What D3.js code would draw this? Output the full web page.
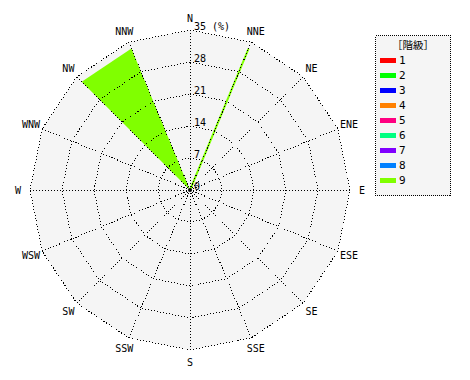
<!DOCTYPE html>
<html><head><meta charset="utf-8">
<script src="https://cdn.jsdelivr.net/npm/d3@7"></script>
<style>
html,body{margin:0;padding:0;background:#fff;}
svg{display:block;}
text{font-family:"DejaVu Sans Mono","Liberation Mono",monospace;fill:#000;}
</style></head>
<body>
<svg id="chart" width="470" height="380"></svg>
<script>
// ---- data ----
const directions = ["N","NNE","NE","ENE","E","ESE","SE","SSE","S","SSW","SW","WSW","W","WNW","NW","NNW"];
const ringTicks = [0, 7, 14, 21, 28, 35];
const unitLabel = "(%)";
const legendTitle = "［階級］";
const classes = ["1","2","3","4","5","6","7","8","9"];
const classColors = ["#ff0000","#00ff00","#0000ff","#ff8000","#ff0080","#00ff80","#8000ff","#0080ff","#80ff00"];
// class 9 sectors: start direction, end direction, value (%)
const class9From = ["NW", "NNE"];
const class9To = ["NNW", "NNE"];
const class9Values = [33.5, 33.5];

// ---- layout ----
const cx = 190, cy = 190, R = 160;
const svg = d3.select("#chart");
const g = svg.append("g").attr("transform", `translate(${cx},${cy})`);

const r = d3.scaleLinear().domain([0, 35]).range([0, R]);
const ang = d3.scalePoint().domain(directions).range([0, 360 - 360 / directions.length]);
const rad = d => (ang(d) - 90) * Math.PI / 180;
const pt = (d, v) => [r(v) * Math.cos(rad(d)), r(v) * Math.sin(rad(d))];

// background polygon
g.append("polygon")
  .attr("points", directions.map(d => pt(d, 35).join(",")).join(" "))
  .attr("fill", "#f5f5f5");

// sectors
const sectors = class9Values.map((v, i) => ({from: class9From[i], to: class9To[i], value: v}));
g.selectAll("polygon.sector").data(sectors).join("polygon")
  .attr("class", "sector")
  .attr("points", s => [[0, 0], pt(s.from, s.value), pt(s.to, s.value)].map(p => p.join(",")).join(" "))
  .attr("fill", classColors[8])
  .attr("stroke", classColors[8])
  .attr("stroke-width", s => s.from === s.to ? 2 : 0);

// rings
g.selectAll("polygon.ring").data(ringTicks.slice(1)).join("polygon")
  .attr("class", "ring")
  .attr("points", v => directions.map(d => pt(d, v).join(",")).join(" "))
  .attr("fill", "none").attr("stroke", "#000").attr("stroke-width", 1)
  .attr("stroke-dasharray", "1,2").attr("shape-rendering", "crispEdges");

// spokes
g.selectAll("line.spoke").data(directions).join("line")
  .attr("class", "spoke")
  .attr("x1", 0).attr("y1", 0)
  .attr("x2", d => pt(d, 35)[0]).attr("y2", d => pt(d, 35)[1])
  .attr("stroke", "#000").attr("stroke-width", 1).attr("stroke-dasharray", "1,2")
  .attr("shape-rendering", "crispEdges");

g.append("circle").attr("r", 2).attr("fill", "#000");

// ring labels
g.selectAll("text.tick").data(ringTicks).join("text")
  .attr("class", "tick")
  .attr("x", 4).attr("y", v => -r(v))
  .attr("font-size", 10)
  .text(v => v === 35 ? v + " " + unitLabel : v);

// direction labels
g.selectAll("text.dir").data(directions).join("text")
  .attr("class", "dir")
  .attr("x", d => (R + 12) * Math.cos(rad(d)))
  .attr("y", d => (R + 12) * Math.sin(rad(d)))
  .attr("text-anchor", "middle").attr("dominant-baseline", "central")
  .attr("font-size", 10)
  .text(d => d);

// legend
const lg = svg.append("g").attr("transform", "translate(375,35)");
lg.append("rect").attr("x", 0.5).attr("y", 0.5).attr("width", 75).attr("height", 160)
  .attr("fill", "#f5f5f5").attr("stroke", "#000").attr("stroke-dasharray", "1,1")
  .attr("shape-rendering", "crispEdges");
lg.append("text").attr("x", 38).attr("y", 14).attr("text-anchor", "middle")
  .attr("font-size", 10.5).style("font-family", "'Noto Sans CJK JP'").text(legendTitle);
const items = lg.selectAll("g.item").data(classes).join("g")
  .attr("class", "item")
  .attr("transform", (c, i) => `translate(0,${25 + i * 15})`);
items.append("rect").attr("x", 5).attr("y", -2).attr("width", 16).attr("height", 5)
  .attr("fill", (c, i) => classColors[i]);
items.append("text").attr("x", 24).attr("y", 0).attr("dominant-baseline", "central")
  .attr("font-size", 11).text(c => c);
</script>
</body></html>
